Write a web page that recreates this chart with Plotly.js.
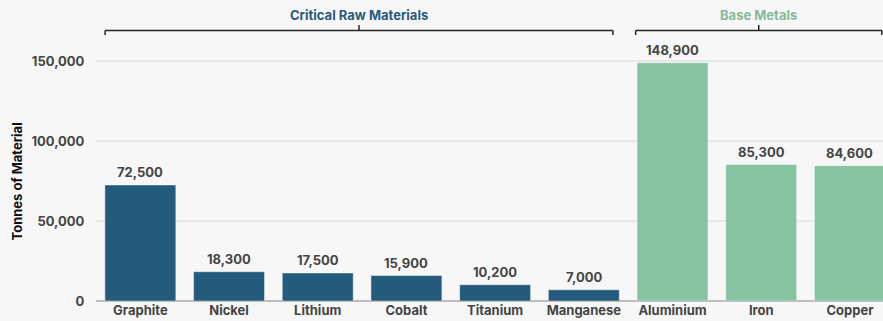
<!DOCTYPE html>
<html>
<head>
<meta charset="utf-8">
<script src="https://cdn.plot.ly/plotly-3.0.1.min.js"></script>
<style>html,body{margin:0;padding:0;background:#f7f7f7;}#chart{width:883px;height:321px;}</style>
</head>
<body>
<div id="chart"></div>
<script>
const criticalMaterials = ["Graphite", "Nickel", "Lithium", "Cobalt", "Titanium", "Manganese"];
const criticalValues = [72500, 18300, 17500, 15900, 10200, 7000];
const baseMetals = ["Aluminium", "Iron", "Copper"];
const baseValues = [148900, 85300, 84600];
const yTickValues = [0, 50000, 100000, 150000];
const yTickLabels = ["0", "50,000", "100,000", "150,000"];
const groupLabels = ["Critical Raw Materials", "Base Metals"];
const yAxisTitle = "Tonnes of Material";

const allCats = criticalMaterials.concat(baseMetals);
const fmt = v => v.toLocaleString('en-US');
const FONT = 'Inter, "Noto Sans", sans-serif';
const BLUE = '#245a7b';
const GREEN = '#86c3a1';

const traces = [
  {type:'bar', x:criticalMaterials, y:criticalValues, marker:{color:BLUE, line:{color:'rgba(255,255,255,0.45)', width:1}}, hoverinfo:'skip'},
  {type:'bar', x:baseMetals, y:baseValues, marker:{color:GREEN, line:{color:'rgba(255,255,255,0.45)', width:1}}, hoverinfo:'skip'}
];

const annotations = [];
criticalMaterials.forEach((c,i)=>annotations.push({x:c, y:criticalValues[i], xref:'x', yref:'y', text:fmt(criticalValues[i]), showarrow:false, yanchor:'bottom', yshift:3, font:{family:FONT, size:13, color:'#444', weight:700}}));
baseMetals.forEach((c,i)=>annotations.push({x:c, y:baseValues[i], xref:'x', yref:'y', text:fmt(baseValues[i]), showarrow:false, yanchor:'bottom', yshift:3, font:{family:FONT, size:13, color:'#444', weight:700}}));

// bracket geometry (data x units, paper y)
const yLine = 1.0246, yEnd = 1.0076, yTop = 1.0455, yTitle = 1.083;
const brackets = [
  {x0:-0.397, x1:5.328, label:groupLabels[0], color:'#2a5a7a'},
  {x0:5.584, x1:8.36, label:groupLabels[1], color:'#86b89c'}
];
const shapes = [];
brackets.forEach(b=>{
  const mid = (b.x0+b.x1)/2;
  const ln = {color:'#222', width:1.5};
  shapes.push({type:'line', xref:'x', yref:'paper', x0:b.x0, x1:b.x1, y0:yLine, y1:yLine, line:ln});
  shapes.push({type:'line', xref:'x', yref:'paper', x0:b.x0, x1:b.x0, y0:yLine, y1:yEnd, line:ln});
  shapes.push({type:'line', xref:'x', yref:'paper', x0:b.x1, x1:b.x1, y0:yLine, y1:yEnd, line:ln});
  shapes.push({type:'line', xref:'x', yref:'paper', x0:mid, x1:mid, y0:yLine, y1:yTop, line:ln});
  annotations.push({x:mid, y:yTitle, xref:'x', yref:'paper', yanchor:'middle', text:b.label, showarrow:false, font:{family:FONT, size:13, color:b.color, weight:700}});
});

// y-axis title as rotated annotation
annotations.push({x:0, y:0.4527, xref:'paper', yref:'paper', xshift:-79, xanchor:'center', yanchor:'middle', textangle:-90, text:yAxisTitle, showarrow:false, font:{family:FONT, size:13, color:'#111', weight:700}});

const layout = {
  width:883, height:321,
  margin:{l:96, r:0, t:37, b:20},
  paper_bgcolor:'#f7f7f7', plot_bgcolor:'#f7f7f7',
  showlegend:false,
  bargap:0.2,
  font:{family:FONT, size:13, color:'#444'},
  xaxis:{type:'category', categoryorder:'array', categoryarray:allCats, range:[-0.5, 8.373], showgrid:false, zeroline:false, showline:false, ticks:'', tickfont:{family:FONT, size:13, color:'#444', weight:700}, fixedrange:true},
  yaxis:{range:[0,165000], tickvals:yTickValues, ticktext:yTickLabels, showgrid:true, gridcolor:'#e7e7e7', gridwidth:2, zeroline:true, zerolinecolor:'#bdbdbd', zerolinewidth:1.5, ticks:'outside', ticklen:8, tickcolor:'rgba(0,0,0,0)', tickfont:{family:FONT, size:13, color:'#444', weight:700}, fixedrange:true},
  shapes:shapes,
  annotations:annotations
};
Plotly.newPlot('chart', traces, layout, {staticPlot:true, displayModeBar:false});
</script>
</body>
</html>
